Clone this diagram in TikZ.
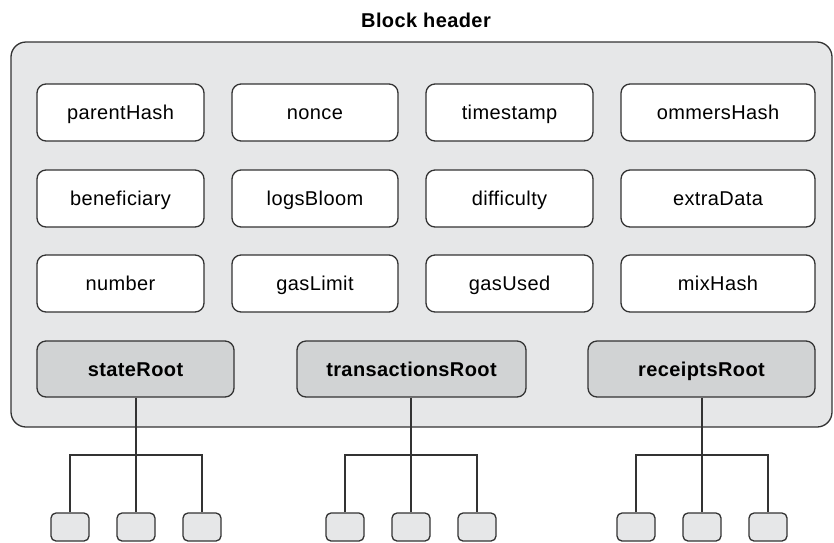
\documentclass[tikz,border=0pt]{standalone}
\usepackage{fontspec}
\setmainfont{Liberation Sans}[LetterSpace=2]
\definecolor{outerfill}{HTML}{E6E7E8}
\definecolor{rootfill}{HTML}{D1D3D4}
\definecolor{linec}{HTML}{333333}
\begin{document}
\begin{tikzpicture}[x=1pt,y=-1pt,
  every node/.style={font=\fontsize{20}{24}\selectfont, inner sep=0pt, text height=14pt, text depth=0pt},
  field/.style={draw=linec, line width=1.3pt, rounded corners=9pt, fill=white, minimum height=57pt},
  rootbox/.style={draw=linec, line width=1.3pt, rounded corners=9pt, fill=rootfill, minimum height=56pt, font=\fontsize{20}{24}\selectfont\bfseries},
  leaf/.style={draw=linec, line width=1.3pt, rounded corners=5pt, fill=outerfill, minimum width=38pt, minimum height=28pt, text height=0pt},
  conn/.style={draw=linec, line width=1.3pt}]
\useasboundingbox (0,0) rectangle (834,542);
% title
\node[font=\fontsize{20}{24}\selectfont\bfseries, anchor=base] (title) at (426,27) {Block header};
% outer box
\node[draw=linec, line width=1.3pt, fill=outerfill, rounded corners=15pt, minimum width=821pt, minimum height=385pt, text height=0pt] (hdr) at (421.5,234.5) {};
% row 1
\node[field, minimum width=167pt] (parentHash) at (120.5,112.5) {parentHash};
\node[field, minimum width=166pt] (nonce) at (315,112.5) {nonce};
\node[field, minimum width=167pt] (timestamp) at (509.5,112.5) {timestamp};
\node[field, minimum width=194pt] (ommersHash) at (718,112.5) {ommersHash};
% row 2
\node[field, minimum width=167pt] (beneficiary) at (120.5,198.5) {beneficiary};
\node[field, minimum width=166pt] (logsBloom) at (315,198.5) {logsBloom};
\node[field, minimum width=167pt] (difficulty) at (509.5,198.5) {difficulty};
\node[field, minimum width=194pt] (extraData) at (718,198.5) {extraData};
% row 3
\node[field, minimum width=167pt] (number) at (120.5,283.5) {number};
\node[field, minimum width=166pt] (gasLimit) at (315,283.5) {gasLimit};
\node[field, minimum width=167pt] (gasUsed) at (509.5,283.5) {gasUsed};
\node[field, minimum width=194pt] (mixHash) at (718,283.5) {mixHash};
% roots
\node[rootbox, minimum width=197pt] (stateRoot) at (135.5,369) {stateRoot};
\node[rootbox, minimum width=229pt] (txRoot) at (411.5,369) {transactionsRoot};
\node[rootbox, minimum width=227pt] (rcRoot) at (701.5,369) {receiptsRoot};
% leaves
\node[leaf] (s1) at (70,527) {};
\node[leaf] (s2) at (136,527) {};
\node[leaf] (s3) at (202,527) {};
\node[leaf] (t1) at (345,527) {};
\node[leaf] (t2) at (411,527) {};
\node[leaf] (t3) at (477,527) {};
\node[leaf] (r1) at (636,527) {};
\node[leaf] (r2) at (702,527) {};
\node[leaf] (r3) at (768,527) {};
% bus coordinates
\coordinate (sb) at (136,455);
\coordinate (tb) at (411,455);
\coordinate (rb) at (702,455);
% connectors
\draw[conn] (stateRoot.south -| s2.north) -- (s2.north);
\draw[conn] (s1.north) |- (sb) -| (s3.north);
\draw[conn] (txRoot.south -| t2.north) -- (t2.north);
\draw[conn] (t1.north) |- (tb) -| (t3.north);
\draw[conn] (rcRoot.south -| r2.north) -- (r2.north);
\draw[conn] (r1.north) |- (rb) -| (r3.north);
\end{tikzpicture}
\end{document}
